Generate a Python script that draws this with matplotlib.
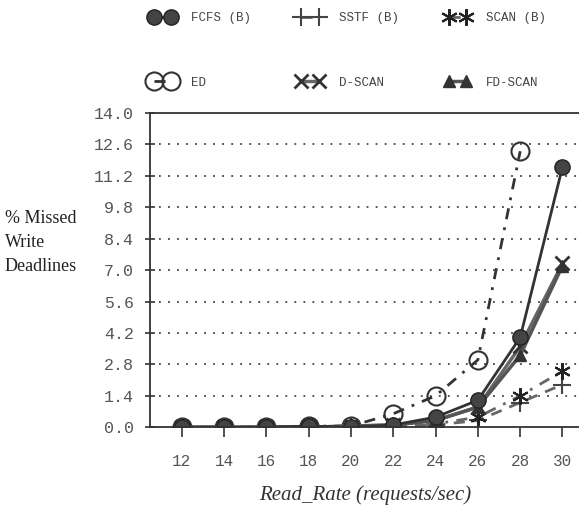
import numpy as np
import matplotlib.pyplot as plt

# Read rate on the x axis
read_rate = [12, 14, 16, 18, 20, 22, 24, 26, 28, 30]

# % missed write deadlines per scheduler
fcfs = [0.0, 0.0, 0.0, 0.05, 0.0, 0.1, 0.45, 1.2, 4.0, 11.6]
sstf = [0.0, 0.0, 0.0, 0.0, 0.0, 0.05, 0.1, 0.3, 1.1, 1.9]
scan = [0.0, 0.0, 0.0, 0.0, 0.0, 0.05, 0.15, 0.45, 1.4, 2.5]
ed = [0.0, 0.0, 0.0, 0.05, 0.05, 0.6, 1.4, 3.0, 12.3]
dscan = [0.0, 0.0, 0.0, 0.0, 0.05, 0.1, 0.3, 0.9, 3.6, 7.3]
fdscan = [0.0, 0.0, 0.0, 0.0, 0.05, 0.1, 0.3, 0.9, 3.2, 7.2]

y_ticks = [0.0, 1.4, 2.8, 4.2, 5.6, 7.0, 8.4, 9.8, 11.2, 12.6, 14.0]

mono = 'Liberation Mono'
serif = 'Liberation Serif'

fig = plt.figure(figsize=(5.79, 5.21), dpi=100)
ax = fig.add_axes([0.259, 0.180, 0.760, 0.603])

dark = '#333333'
grey = '#666666'

ax.plot(read_rate, fcfs, color=dark, lw=2, marker='o', ms=11,
        mfc='#444444', mec='#222222', label='FCFS (B)', zorder=5)
ax.plot(read_rate, sstf, color=grey, lw=2, ls=(0, (4, 3)), marker='+', ms=13,
        mew=1.5, mec='#444444', label='SSTF (B)')
ax.plot(read_rate, scan, color=grey, lw=2, ls=(0, (4, 3, 1, 3)), marker=(6, 2, 0), ms=12,
        mew=1.5, mec='#222222', label='SCAN (B)')
ax.plot(read_rate[:len(ed)], ed, color=dark, lw=2, ls=(0, (4, 3, 1, 3)), marker='o', ms=13,
        mfc='none', mec='#333333', mew=1.5, label='ED')
ax.plot(read_rate, dscan, color=grey, lw=2.5, marker='x', ms=10, mew=2,
        mec='#333333', label='D-SCAN')
ax.plot(read_rate, fdscan, color='#555555', lw=2.5, marker='^', ms=8,
        mfc='#333333', mec='#333333', label='FD-SCAN')

ax.set_xlim(10.5, 31.3)
ax.set_ylim(0, 14.0)
ax.set_xticks(read_rate)
ax.set_yticks(y_ticks)
ax.set_yticklabels([f'{v:.1f}' for v in y_ticks])
ax.tick_params(axis='both', direction='inout', length=7, width=1.2, colors='#333333',
               labelsize=12, labelcolor='#555555')
for lab in ax.get_xticklabels() + ax.get_yticklabels():
    lab.set_fontfamily(mono)
ax.tick_params(axis='x', direction='out', pad=12, labelsize=11.5)
ax.tick_params(axis='y', pad=8)

for v in y_ticks[1:-1]:
    ax.axhline(v, xmin=0.02, color='#444444', ls=(0, (1, 4)), lw=1.3, zorder=0)

ax.spines['right'].set_visible(False)
for s in ['left', 'bottom', 'top']:
    ax.spines[s].set_linewidth(1.3)
    ax.spines[s].set_color('#333333')
    ax.spines[s].set_zorder(6)

fig.text(0.008, 0.535, '% Missed\nWrite\nDeadlines', fontfamily=serif, fontsize=13,
         color='#222222', linespacing=1.55, va='center', ha='left')
fig.text(0.63, 0.04, 'Read_Rate (requests/sec)', fontfamily=serif, fontsize=15,
         style='italic', color='#333333', ha='center')

handles, labels = ax.get_legend_handles_labels()
order = [0, 3, 1, 4, 2, 5]
leg = fig.legend([handles[i] for i in order], [labels[i] for i in order],
                 ncol=3, loc='upper left', bbox_to_anchor=(150 / 579, 1 - 12 / 521),
                 frameon=False, borderpad=0, borderaxespad=0,
                 numpoints=2, handlelength=2.0, handletextpad=1.3,
                 labelspacing=4.2, columnspacing=3.7,
                 prop={'family': mono, 'size': 9})
for t in leg.get_texts():
    t.set_color('#444444')

fig.savefig('out.png', dpi=100)
